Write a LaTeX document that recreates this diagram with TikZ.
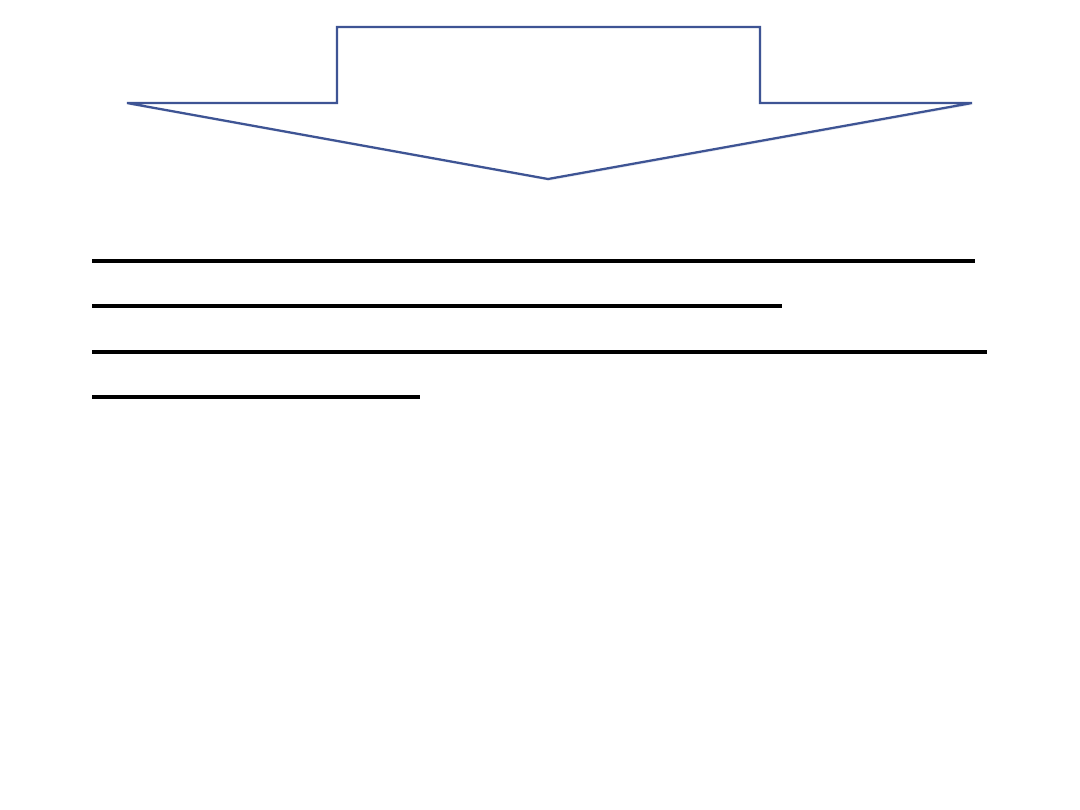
\documentclass[tikz,border=0pt]{standalone}
\usepackage{tikz}
\usetikzlibrary{shadows}
\usepackage{xcolor}
\definecolor{arrowblue}{RGB}{62,84,148}

\begin{document}
\begin{tikzpicture}[
        x=0.025cm, y=-0.025cm,
        blockarrow/.style={draw=arrowblue, line width=1.6pt, fill=white, line join=miter,
            drop shadow={shadow xshift=0.8pt, shadow yshift=-1.2pt, opacity=0.25, fill=arrowblue!50}},
        blank/.style={draw=black, line width=2.6pt}
    ]

    % Page
    \useasboundingbox (0,0) rectangle (1080,810);
    \fill[white] (0,0) rectangle (1080,810);

    % Down arrow
    \path[blockarrow] (337,27) -- (760,27) -- (760,103) -- (972,103)
        -- (548,179) -- (127,103) -- (337,103) -- cycle;

    % Blank lines
    \coordinate (l1) at (92,261);
    \coordinate (l2) at (92,306);
    \coordinate (l3) at (92,352);
    \coordinate (l4) at (92,397);
    \draw[blank] (l1) -- ++(883,0);
    \draw[blank] (l2) -- ++(690,0);
    \draw[blank] (l3) -- ++(895,0);
    \draw[blank] (l4) -- ++(328,0);

\end{tikzpicture}
\end{document}
